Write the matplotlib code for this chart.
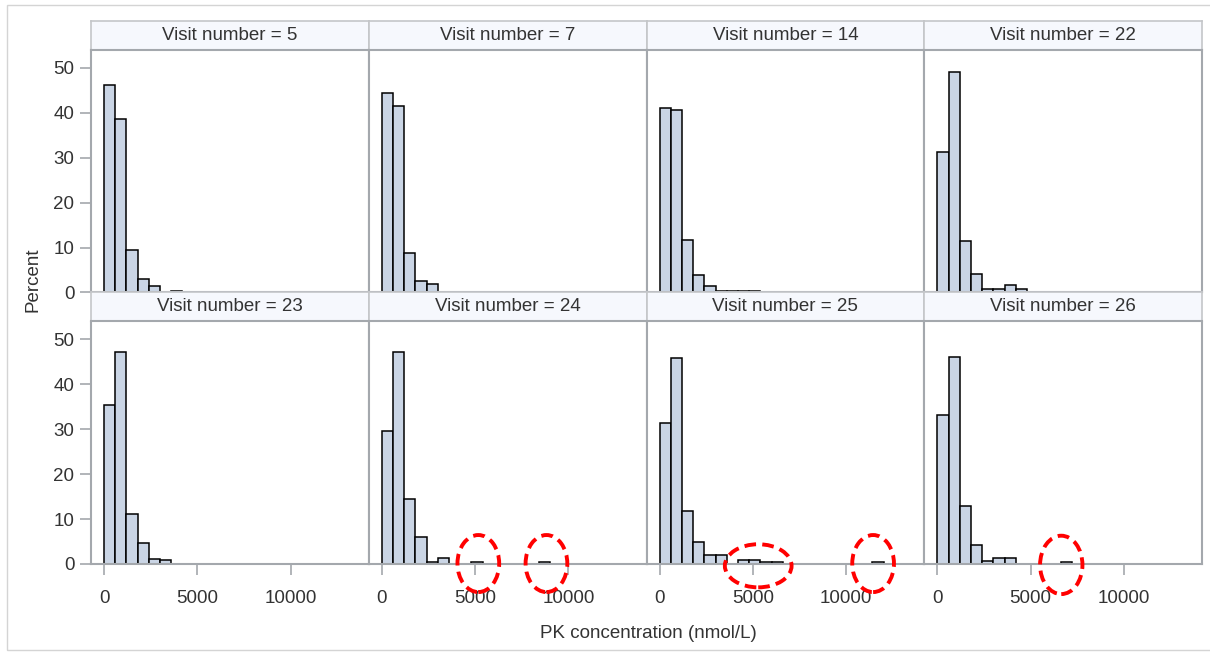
import matplotlib
matplotlib.use('Agg')
import matplotlib.pyplot as plt
from matplotlib.patches import Rectangle, Ellipse

plt.rcParams['font.family'] = ['Liberation Sans', 'DejaVu Sans']

# histogram data: percent per bin, bins of width 600 starting at 0
bin_width = 600
visits = [5, 7, 14, 22, 23, 24, 25, 26]
v5 = [46.3, 38.7, 9.4, 3.0, 1.5, 0, 0.4]
v7 = [44.4, 41.5, 8.7, 2.6, 2.0]
v14 = [41.1, 40.6, 11.7, 3.85, 1.5, 0.3, 0.3, 0.3, 0.3]
v22 = [31.3, 49.0, 11.4, 4.2, 0.75, 0.75, 1.6, 0.75]
v23 = [35.3, 47.2, 11.1, 4.6, 1.2, 0.8]
v24 = [29.7, 47.3, 14.5, 6.1, 0.45, 1.25, 0, 0, 0.45, 0, 0, 0, 0, 0, 0.45]
v25 = [31.3, 45.8, 11.9, 5.0, 1.9, 1.9, 0, 0.8, 0.8, 0.45, 0.45,
       0, 0, 0, 0, 0, 0, 0, 0, 0.45]
v26 = [33.2, 46.1, 13.0, 4.3, 0.75, 1.3, 1.3, 0, 0, 0, 0, 0.45]
percents = [v5, v7, v14, v22, v23, v24, v25, v26]

# red dashed circles marking outliers: (panel, x center, y center, width, height)
marks = [(5, 5170, 0.1, 2235, 12.7), (5, 8820, 0.1, 2235, 12.7),
         (6, 5285, -0.4, 3575, 9.6), (6, 11440, 0.1, 2235, 12.7),
         (7, 6640, -0.2, 2270, 13.0)]

W, H = 1210, 656
fig = plt.figure(figsize=(W / 100, H / 100), dpi=100)

# outer frame
fig.patches.append(Rectangle((7 / W, 1 - 650 / H), 1.2, (650 - 5) / H,
                             transform=fig.transFigure, fill=False,
                             edgecolor='#d4d4d4', lw=1))

left, right = 91, 1202
pw = (right - left) / 4
hh = 29.5
ph = 242.5
row_tops = [20.5, 292]

frame_col = '#a4a8ad'
tick_col = '#a4a8ad'
txt_col = '#333333'

for i, (visit, pct) in enumerate(zip(visits, percents)):
    r, c = divmod(i, 4)
    x0 = left + c * pw
    top = row_tops[r]
    # header strip
    hax = fig.add_axes([x0 / W, 1 - (top + hh) / H, pw / W, hh / H])
    hax.set_facecolor('#f6f8fd')
    hax.set_xticks([])
    hax.set_yticks([])
    for s in hax.spines.values():
        s.set_color('#c4c6c9')
        s.set_linewidth(1.2)
    hax.text(0.5, 0.5, 'Visit number = %d' % visit, ha='center', va='center',
             fontsize=13.5, color=txt_col, transform=hax.transAxes)

    ax = fig.add_axes([x0 / W, 1 - (top + hh + ph) / H, pw / W, ph / H])
    xs = [k * bin_width for k in range(len(pct)) if pct[k] > 0]
    hs = [p for p in pct if p > 0]
    ax.bar(xs, hs, width=bin_width, align='edge', color='#cad5e5',
           edgecolor='black', linewidth=1.1, zorder=2)
    ax.set_xlim(-700, 14180)
    ax.set_ylim(0, 54)
    for s in ax.spines.values():
        s.set_color(frame_col)
        s.set_linewidth(1.5)
    ax.set_xticks([0, 5000, 10000])
    ax.set_yticks([0, 10, 20, 30, 40, 50])
    ax.tick_params(colors=tick_col, labelcolor=txt_col, labelsize=13.5,
                   length=8, width=1.2)
    ax.tick_params(axis='x', pad=11)
    ax.tick_params(axis='y', pad=4)
    if c != 0:
        ax.tick_params(axis='y', left=False, labelleft=False)
    if r != 1:
        ax.tick_params(axis='x', bottom=False, labelbottom=False)

    for m in marks:
        if m[0] == i:
            ax.add_patch(Ellipse((m[1], m[2]), m[3], m[4], fill=False,
                                 edgecolor='#ff0000', lw=2.8,
                                 linestyle=(0, (3, 1.6)), clip_on=False,
                                 zorder=5))

fig.text(33 / W, 1 - 280 / H, 'Percent', rotation=90, ha='center',
         va='center', fontsize=13.5, color=txt_col)
fig.text(648 / W, 1 - 633 / H, 'PK concentration (nmol/L)', ha='center',
         va='center', fontsize=13.5, color=txt_col)

fig.savefig('out.png', dpi=100, facecolor='white')
